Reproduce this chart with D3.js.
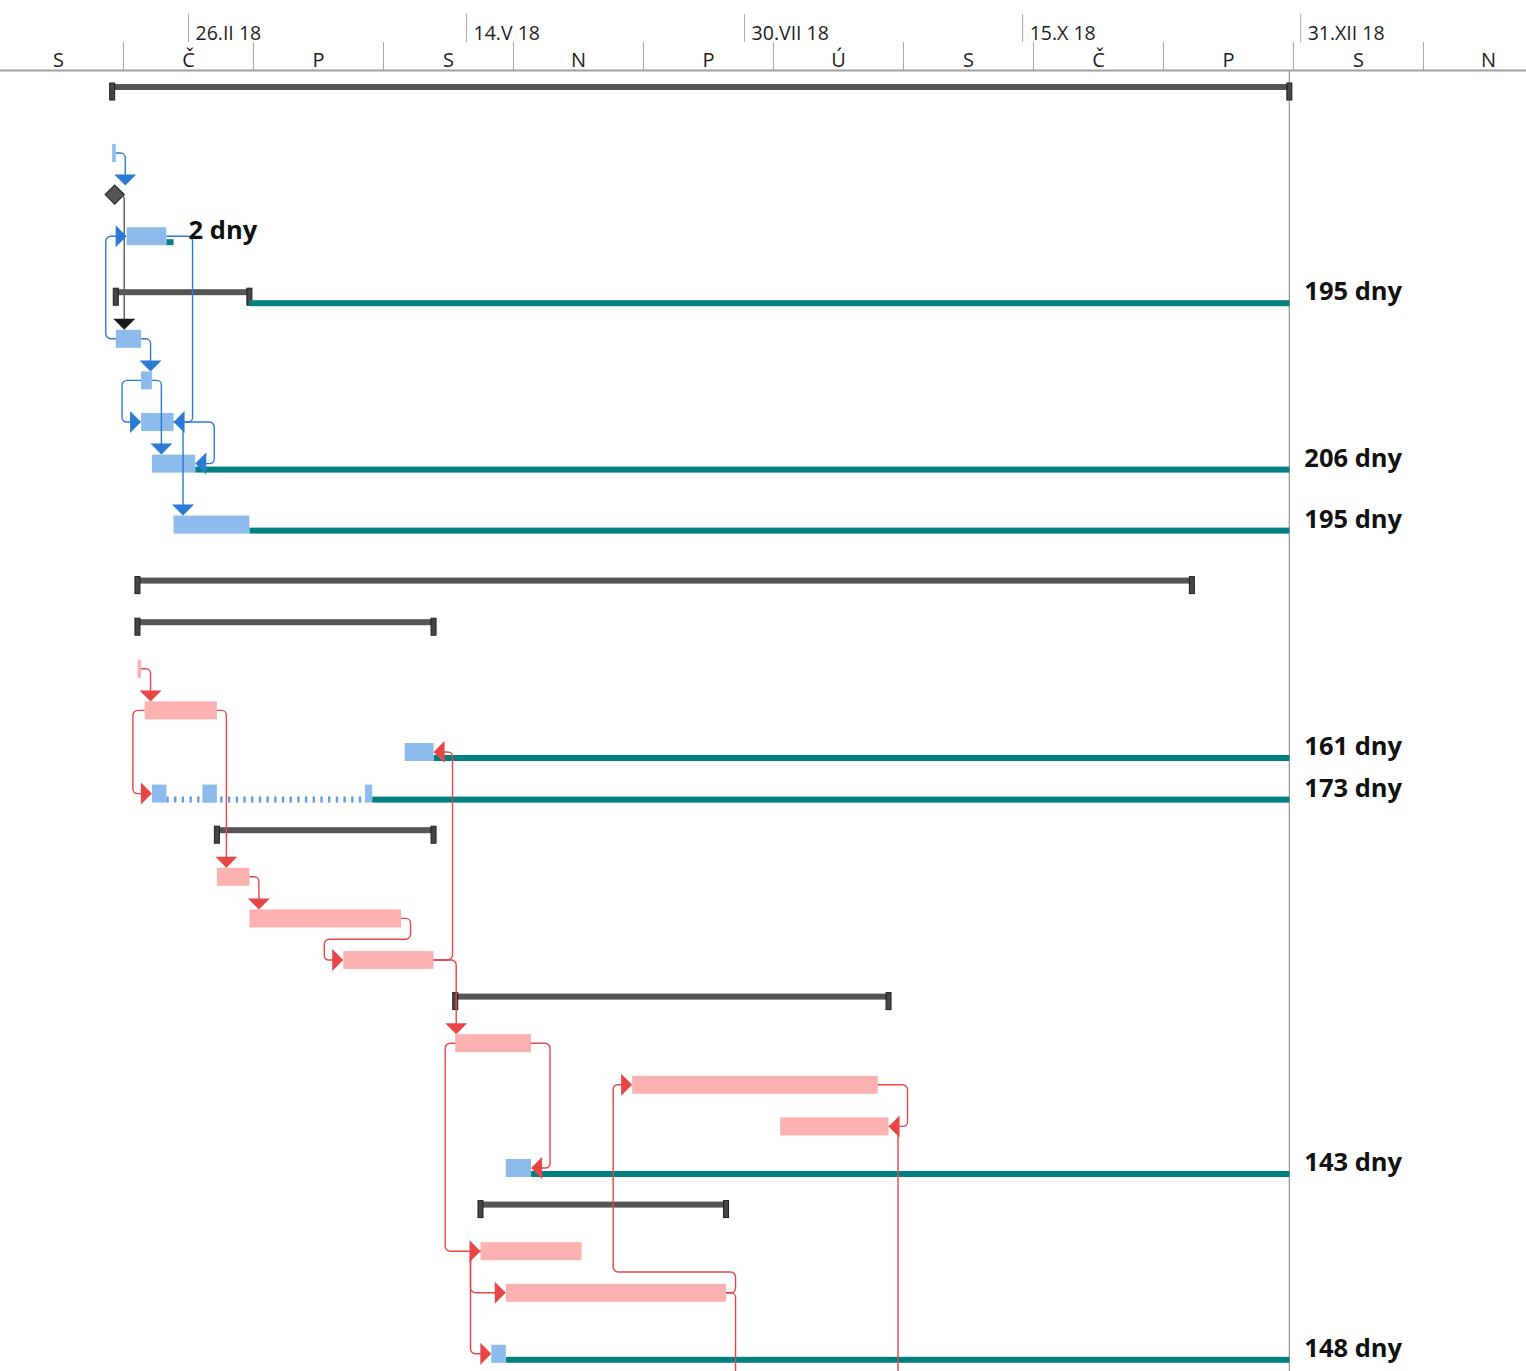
<!DOCTYPE html>
<html>
<head>
<meta charset="utf-8">
<script src="https://cdn.jsdelivr.net/npm/d3@7"></script>
<style>
  html, body { margin: 0; padding: 0; background: #fff; }
  svg { display: block; font-family: "Open Sans", "Noto Sans", sans-serif; }
</style>
</head>
<body>
<svg id="gantt" width="1526" height="1371"></svg>
<script>
// ---- timescale ----
const topTierDates = ["2018-02-26", "2018-05-14", "2018-07-30", "2018-10-15", "2018-12-31"];
const romanMonths = ["I","II","III","IV","V","VI","VII","VIII","IX","X","XI","XII"];
const bottomTierStart = "2018-01-03";
const bottomTierStepDays = 36;
const bottomTierCount = 12;
const dayLetters = ["N", "P", "Ú", "S", "Č", "P", "S"]; // Sunday first
const projectFinish = "2018-12-28";

// ---- tasks (one entry per row) ----
const taskKind = ["summary","task","milestone","task","summary","task","task","task","task","task",
                  "summary","summary","critical","critical","task","split","summary","critical","critical","critical",
                  "summary","critical","critical","critical","task","summary","critical","critical","task","critical","critical"];
const taskStart = ["2018-02-05","2018-02-05","2018-02-05T17:00","2018-02-09","2018-02-06","2018-02-06","2018-02-13","2018-02-13","2018-02-16","2018-02-22",
                   "2018-02-12","2018-02-12","2018-02-12","2018-02-14","2018-04-27","2018-02-16","2018-03-06","2018-03-06","2018-03-15","2018-04-10",
                   "2018-05-11","2018-05-11","2018-06-29","2018-08-09","2018-05-25","2018-05-18","2018-05-18","2018-05-25","2018-05-21","2018-07-25","2018-09-10"];
const taskFinish = ["2018-12-28","2018-02-06","2018-02-05T17:00","2018-02-20","2018-03-15","2018-02-13","2018-02-16","2018-02-22","2018-02-28","2018-03-15",
                    "2018-12-01","2018-05-05","2018-02-13","2018-03-06","2018-05-05","2018-04-18","2018-05-05","2018-03-15","2018-04-26","2018-05-05",
                    "2018-09-08","2018-06-01","2018-09-05","2018-09-08","2018-06-01","2018-07-25","2018-06-15","2018-07-25","2018-05-25","2018-08-22","2018-10-05"];
// number of text lines in each table row (sets the row height)
const rowLines = [3,2,2,3,2,2,2,2,3,3,
                  2,2,2,2,2,2,2,2,2,2,
                  2,2,2,2,2,2,2,3,2,2,2];

// split task pieces
const splitTask = 15;
const splitSegments = [["2018-02-16","2018-02-20"], ["2018-03-02","2018-03-06"], ["2018-04-16","2018-04-18"]];

// total slack
const slackTasks  = [3, 4, 8, 9, 14, 15, 24, 28];
const slackFinish = ["2018-02-22","2018-12-28","2018-12-28","2018-12-28","2018-12-28","2018-12-28","2018-12-28","2018-12-28"];
const slackLabels = ["2 dny","195 dny","206 dny","195 dny","161 dny","173 dny","143 dny","148 dny"];

// dependencies
const linkFrom = [1, 2, 5, 5, 6, 6, 3, 7, 7, 12, 13, 13, 17, 18, 19, 19, 21, 21, 26, 26, 22, 27, 27, 23];
const linkTo   = [2, 5, 3, 6, 7, 8, 7, 8, 9, 13, 15, 17, 18, 19, 14, 21, 24, 26, 27, 28, 23, 22, 29, 30];
const linkType = ["FS","FS","SS","FS","SS","FS","FF","FF","FS","FS","SS","FS","FS","FS","FF","FS","FF","SS","SS","SS","FF","FS","FS","FS"];

// ---- styles ----
const C = {
  blueBar: "#8dbbec", redBar: "#fdb2b2", teal: "#008080",
  summary: "#555555", cap: "#464646", capStroke: "#1e1e1e",
  blueLink: "#2b7bd5", redLink: "#e64646", blackLine: "#5a5a5a", blackArrow: "#1a1a1a",
  grid: "#a8a8a8", text: "#1e1e1e"
};

const parse = s => new Date(s.length > 10 ? s + ":00Z" : s + "T00:00:00Z");
const svg = d3.select("#gantt");
const W = 1526, H = 1371;

const pxPerDay = 3.611;
const x = d3.scaleUtc()
  .domain([parse("2018-02-26"), parse("2018-12-31")])
  .range([188, 188 + 308 * pxPerDay]);

// row geometry
const lineH = 19.4, rowPad = 2.8, chartTop = 72, barOffset = 20;
const cy = [];
{
  let top = chartTop;
  rowLines.forEach(n => { cy.push(top + barOffset); top += n * lineH + rowPad; });
}
const rowHalf = (2 * lineH + rowPad) / 2;

// ---- header ----
const fmtTop = d => `${d.getUTCDate()}.${romanMonths[d.getUTCMonth()]} ${String(d.getUTCFullYear()).slice(2)}`;
const topAxis = svg.append("g").attr("transform", "translate(0,42)")
  .call(d3.axisTop(x).tickValues(topTierDates.map(parse)).tickSize(28).tickFormat(fmtTop));
topAxis.select(".domain").remove();
topAxis.selectAll(".tick line").attr("stroke", C.grid);
topAxis.selectAll(".tick text")
  .attr("x", 7).attr("y", -2).attr("dy", null)
  .attr("text-anchor", "start").attr("fill", C.text)
  .style("font-family", "'Open Sans', sans-serif").style("font-size", "19.5px");

const bottomDates = d3.range(bottomTierCount).map(i => d3.utcDay.offset(parse(bottomTierStart), i * bottomTierStepDays));
const halfStep = bottomTierStepDays * pxPerDay / 2;
const botAxis = svg.append("g").attr("transform", "translate(0,70)")
  .call(d3.axisTop(x).tickValues(bottomDates).tickSize(28).tickFormat(d => dayLetters[d.getUTCDay()]));
botAxis.select(".domain").remove();
botAxis.selectAll(".tick line").attr("stroke", C.grid);
botAxis.selectAll(".tick text")
  .attr("x", halfStep).attr("y", -3).attr("dy", null)
  .attr("text-anchor", "middle").attr("fill", C.text)
  .style("font-family", "'Open Sans', sans-serif").style("font-size", "20px");

svg.append("line").attr("x1", 0).attr("x2", W).attr("y1", 70.5).attr("y2", 70.5)
  .attr("stroke", "#a0a0a0").attr("stroke-width", 2);

// project finish line
svg.append("line")
  .attr("x1", x(parse(projectFinish))).attr("x2", x(parse(projectFinish)))
  .attr("y1", 71).attr("y2", H)
  .attr("stroke", "#9a9a9a").attr("stroke-width", 1.3);

// ---- bars ----
const tasks = taskKind.map((k, i) => ({
  i, kind: k, start: parse(taskStart[i]), finish: parse(taskFinish[i]), y: cy[i]
}));
const xs = i => x(tasks[i].start);
const xe = i => x(tasks[i].finish);

const gBars = svg.append("g");

// summary bars
const summaries = tasks.filter(t => t.kind === "summary");
gBars.selectAll("rect.sum").data(summaries).join("rect").attr("class", "sum")
  .attr("x", t => x(t.start)).attr("width", t => x(t.finish) - x(t.start))
  .attr("y", t => t.y - 8).attr("height", 6).attr("fill", C.summary);
const caps = summaries.flatMap(t => [{ d: t.start, y: t.y }, { d: t.finish, y: t.y }]);
gBars.selectAll("rect.cap").data(caps).join("rect").attr("class", "cap")
  .attr("x", c => x(c.d) - 2.5).attr("width", 5)
  .attr("y", c => c.y - 9).attr("height", 17)
  .attr("fill", C.cap).attr("stroke", C.capStroke).attr("stroke-width", 1);

// slack bars
const slackData = slackTasks.map((ti, k) => ({
  ti, end: parse(slackFinish[k]), label: slackLabels[k], y: cy[ti],
  from: ti === splitTask ? x(parse(splitSegments[splitSegments.length - 1][1])) : xe(ti)
}));
gBars.selectAll("rect.slack").data(slackData).join("rect").attr("class", "slack")
  .attr("x", s => s.from).attr("width", s => x(s.end) - s.from)
  .attr("y", s => s.y + 3).attr("height", 6).attr("fill", C.teal);

// split task: dotted connector then pieces
const segs = splitSegments.map(s => ({ a: parse(s[0]), b: parse(s[1]) }));
gBars.append("line")
  .attr("x1", x(segs[0].b)).attr("x2", x(segs[segs.length - 1].a))
  .attr("y1", cy[splitTask] + 6).attr("y2", cy[splitTask] + 6)
  .attr("stroke", "#5c9de2").attr("stroke-width", 6).attr("stroke-dasharray", "2.4 5.3");
gBars.selectAll("rect.seg").data(segs).join("rect").attr("class", "seg")
  .attr("x", s => x(s.a)).attr("width", s => x(s.b) - x(s.a))
  .attr("y", cy[splitTask] - 9).attr("height", 18).attr("fill", C.blueBar);

// normal and critical task bars
const plain = tasks.filter(t => t.kind === "task" || t.kind === "critical");
gBars.selectAll("rect.bar").data(plain).join("rect").attr("class", "bar")
  .attr("x", t => x(t.start)).attr("width", t => Math.max(x(t.finish) - x(t.start), 1))
  .attr("y", t => t.y - 9).attr("height", 18)
  .attr("fill", t => t.kind === "critical" ? C.redBar : C.blueBar);

// milestones
const miles = tasks.filter(t => t.kind === "milestone");
gBars.selectAll("path.ms").data(miles).join("path").attr("class", "ms")
  .attr("d", t => { const cx = x(t.start), c = t.y, h = 9.5;
    return `M${cx},${c - h}L${cx + h},${c}L${cx},${c + h}L${cx - h},${c}Z`; })
  .attr("fill", "#555").attr("stroke", "#2a2a2a").attr("stroke-width", 1.2);

// ---- dependency links ----
function route(p, s, type) {
  const yp = cy[p], ys = cy[s];
  const ps = xs(p), pe = xe(p), ss = xs(s), se = xe(s);
  const sHalf = 9;
  if (type === "SS") {
    const v = Math.min(ps - 10, ss - 19);
    return { pts: [[ps, yp], [v, yp], [v, ys], [ss - 10, ys]], dir: "right", tip: [ss, ys] };
  }
  if (type === "FF") {
    const v = Math.max(pe, se) + 19;
    return { pts: [[pe, yp], [v, yp], [v, ys], [se + 10, ys]], dir: "left", tip: [se, ys] };
  }
  // finish-to-start
  if (ss < pe - 2) {
    const v1 = pe + 9.5, v2 = ss - 19;
    const ym = ys > yp ? yp + rowHalf : yp - rowHalf;
    return { pts: [[pe, yp], [v1, yp], [v1, ym], [v2, ym], [v2, ys], [ss - 10, ys]], dir: "right", tip: [ss, ys] };
  }
  const ax = Math.max(pe + 9.5, ss + 1);
  const tipY = ys - sHalf;
  return { pts: [[pe, yp], [ax, yp], [ax, tipY - 10]], dir: "down", tip: [ax, tipY] };
}

function roundedPath(pts, r) {
  const p = d3.path();
  p.moveTo(pts[0][0], pts[0][1]);
  for (let i = 1; i < pts.length - 1; i++) {
    const [x0, y0] = pts[i - 1], [x1, y1] = pts[i], [x2, y2] = pts[i + 1];
    const l1 = Math.hypot(x1 - x0, y1 - y0), l2 = Math.hypot(x2 - x1, y2 - y1);
    const rr = Math.min(r, l1 / 2, l2 / 2);
    if (rr < 0.5) { p.lineTo(x1, y1); continue; }
    p.arcTo(x1, y1, x2, y2, rr);
  }
  const last = pts[pts.length - 1];
  p.lineTo(last[0], last[1]);
  return p.toString();
}

function arrowPath(dir, [tx, ty]) {
  const a = 11, b = 11;
  if (dir === "down")  return `M${tx - a},${ty - b}L${tx + a},${ty - b}L${tx},${ty}Z`;
  if (dir === "right") return `M${tx - b},${ty - a}L${tx - b},${ty + a}L${tx},${ty}Z`;
  return `M${tx + b},${ty - a}L${tx + b},${ty + a}L${tx},${ty}Z`;
}

const links = linkFrom.map((f, k) => {
  const r = route(f, linkTo[k], linkType[k]);
  const kind = taskKind[f];
  const line = kind === "critical" ? C.redLink : kind === "milestone" ? C.blackLine : C.blueLink;
  const head = kind === "critical" ? C.redLink : kind === "milestone" ? C.blackArrow : C.blueLink;
  return { ...r, line, head };
});

const gLinks = svg.append("g");
gLinks.selectAll("path.link").data(links).join("path").attr("class", "link")
  .attr("d", l => roundedPath(l.pts, 5))
  .attr("fill", "none").attr("stroke", l => l.line).attr("stroke-width", 1.4);
gLinks.selectAll("path.head").data(links).join("path").attr("class", "head")
  .attr("d", l => arrowPath(l.dir, l.tip)).attr("fill", l => l.head);

// ---- slack labels ----
svg.append("g").selectAll("text").data(slackData).join("text")
  .attr("x", s => x(s.end) + 15).attr("y", s => s.y + 3)
  .attr("fill", "#111").style("font-family", "'Open Sans', sans-serif")
  .style("font-weight", 700).style("font-size", "25.5px")
  .text(s => s.label);
</script>
</body>
</html>
